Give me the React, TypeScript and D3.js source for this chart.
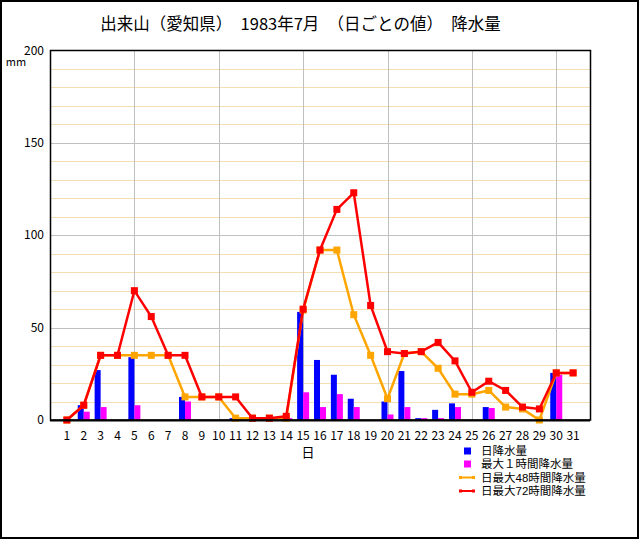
import React, { useEffect } from "react";
import * as d3 from "d3";

const days = d3.range(1, 32);
const dailyPrecip = [0, 8, 27, 0, 34, 0, 0, 12.5, 0, 0, 1, 0, 0, 1, 58.5, 32.5, 24.5, 11.5, 0, 10, 26.5, 1, 5.5, 9, 0, 7, 0, 0, 0, 25.5, 0];
const max1h = [0, 4.5, 7, 0, 8, 0, 0, 10, 0, 0, 1, 0, 0, 1, 15, 7, 14, 7, 0, 3, 7, 1, 1, 7, 0, 6.5, 0, 0, 0, 24.5, 0];
const max48h = [0, 8, 35, 35, 35, 35, 35, 12.5, 12.5, 12.5, 1, 1, 1, 1, 59.5, 92, 92, 57, 35, 11.5, 36, 37, 28, 14, 14, 16, 7, 6, 0, 25.5, 25.5];
const max72h = [0, 8, 35, 35, 70, 56, 35, 35, 12.5, 12.5, 12.5, 1, 1, 2, 60, 92, 114, 123, 62, 37, 36, 37, 42, 32, 15, 21, 16, 7, 6, 25.5, 25.5];
const yTicks = [0, 50, 100, 150, 200];
const minorTicks = d3.range(10, 200, 10).filter((v) => v % 50 !== 0);
const xGrid = [5, 10, 15, 20, 25, 30];

const title = "出来山（愛知県）　1983年7月　（日ごとの値）　降水量";
const legendLabels = ["日降水量", "最大１時間降水量", "日最大48時間降水量", "日最大72時間降水量"];

const FONT = "'Noto Sans CJK JP', 'DejaVu Sans', sans-serif";
const LEGEND_FONT = "'Liberation Sans', 'Noto Sans CJK JP', sans-serif";

export default function App() {
  useEffect(() => {
    document.body.style.margin = "0";
  }, []);

  const W = 640, H = 540;
  const left = 50, right = 590, top = 50.5, bottom = 420;
  const x = d3.scaleLinear().domain([0, 32]).range([left, right]);
  const y = d3.scaleLinear().domain([0, 200]).range([bottom, top]);
  const bw = 6;

  const line = d3
    .line<number>()
    .x((_, i) => x(days[i]))
    .y((d) => y(d));

  const legendY = [451, 464, 477.5, 491];

  return (
    <svg width={W} height={H} style={{ display: "block", fontFamily: FONT }}>
      <rect x={0} y={0} width={W} height={H} fill="#fff" />
      <rect x={1} y={1} width={637} height={537} fill="none" stroke="#000" strokeWidth={2} />
      <text x={300.5} y={30} textAnchor="middle" fontSize={16.5} fill="#000">{title}</text>

      {/* grid */}
      {minorTicks.map((v) => (
        <line key={"m" + v} x1={left} x2={right} y1={Math.round(y(v)) + 0.5} y2={Math.round(y(v)) + 0.5} stroke="#f5deb3" strokeWidth={1} />
      ))}
      {yTicks.slice(1, 4).map((v) => (
        <line key={"g" + v} x1={left} x2={right} y1={Math.round(y(v)) + 0.5} y2={Math.round(y(v)) + 0.5} stroke="#c0c0c0" strokeWidth={1} />
      ))}
      {xGrid.map((d) => (
        <line key={"v" + d} x1={Math.round(x(d)) + 0.5} x2={Math.round(x(d)) + 0.5} y1={top} y2={bottom} stroke="#c0c0c0" strokeWidth={1} />
      ))}

      {/* bars */}
      {dailyPrecip.map((v, i) =>
        v > 0 ? (
          <rect key={"b" + i} x={x(days[i]) - bw} y={y(v)} width={bw} height={bottom - y(v)} fill="#0000ff" />
        ) : null
      )}
      {max1h.map((v, i) =>
        v > 0 ? (
          <rect key={"p" + i} x={x(days[i])} y={y(v)} width={bw} height={bottom - y(v)} fill="#ff00ff" />
        ) : null
      )}

      {/* lines */}
      <path d={line(max48h) || ""} fill="none" stroke="#ffa500" strokeWidth={2.5} />
      {max48h.map((v, i) => (
        <rect key={"o" + i} x={x(days[i]) - 3.5} y={y(v) - 3.5} width={7} height={7} fill="#ffa500" />
      ))}
      <path d={line(max72h) || ""} fill="none" stroke="#ff0000" strokeWidth={2.5} />
      {max72h.map((v, i) => (
        <rect key={"r" + i} x={x(days[i]) - 3.5} y={y(v) - 3.5} width={7} height={7} fill="#ff0000" />
      ))}

      {/* frame */}
      <rect x={left + 0.5} y={top} width={right - left} height={bottom - top} fill="none" stroke="#000" strokeWidth={1.5} />
      <line x1={left} x2={right} y1={bottom + 0.5} y2={bottom + 0.5} stroke="#000" strokeWidth={2} />

      {/* y ticks */}
      {yTicks.map((v) => (
        <text key={"yt" + v} x={44} y={y(v) + 4} textAnchor="end" fontSize={12} fill="#000">{v}</text>
      ))}
      <text x={16} y={66} textAnchor="middle" fontSize={11} fill="#000">mm</text>

      {/* x ticks */}
      {days.map((d) => (
        <text key={"xt" + d} x={x(d)} y={440} textAnchor="middle" fontSize={12} fill="#000">{d}</text>
      ))}
      <text x={308} y={457} textAnchor="middle" fontSize={13} fill="#000">日</text>

      {/* legend */}
      <rect x={464} y={legendY[0] - 3.5} width={7} height={7} fill="#0000ff" />
      <rect x={464} y={legendY[1] - 3.5} width={7} height={7} fill="#ff00ff" />
      <line x1={460} x2={474} y1={legendY[2]} y2={legendY[2]} stroke="#ffa500" strokeWidth={2} />
      <rect x={459} y={legendY[2] - 1.5} width={3} height={3} fill="#ffa500" />
      <rect x={472} y={legendY[2] - 1.5} width={3} height={3} fill="#ffa500" />
      <line x1={460} x2={474} y1={legendY[3]} y2={legendY[3]} stroke="#ff0000" strokeWidth={2} />
      <rect x={459} y={legendY[3] - 1.5} width={3} height={3} fill="#ff0000" />
      <rect x={472} y={legendY[3] - 1.5} width={3} height={3} fill="#ff0000" />
      {legendLabels.map((t, i) => (
        <text key={"lg" + i} x={481} y={legendY[i]} dy="0.36em" fontSize={11.5} fontFamily={LEGEND_FONT} fill="#000">{t}</text>
      ))}
    </svg>
  );
}
